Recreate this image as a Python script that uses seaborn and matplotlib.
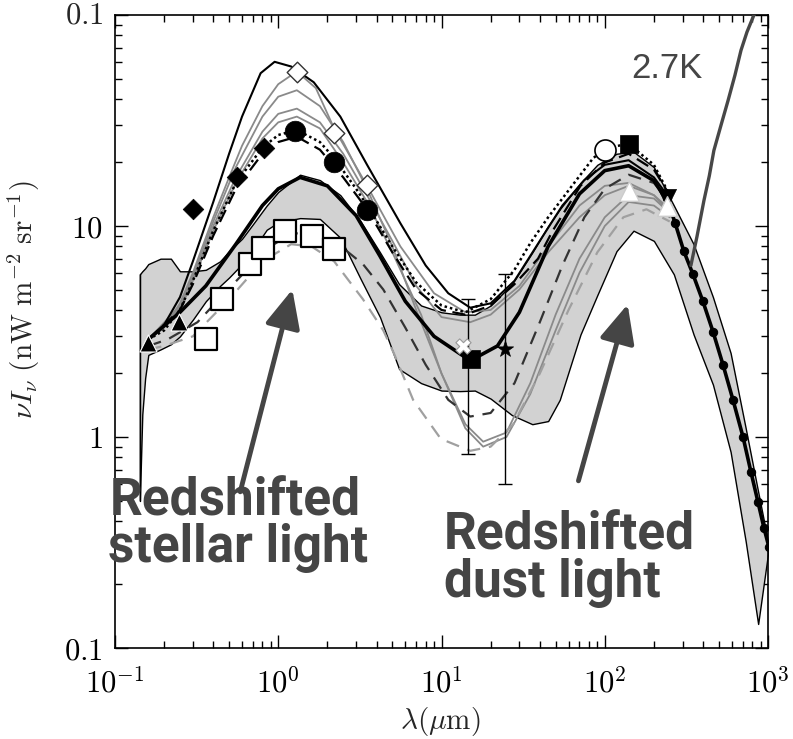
import numpy as np
import pandas as pd
import matplotlib
matplotlib.use("Agg")
import matplotlib.pyplot as plt
import seaborn as sns
from matplotlib.ticker import FixedLocator, FixedFormatter, LogLocator, NullFormatter

# ---------------- data ----------------
band_lam = [0.142, 0.147, 0.153, 0.16, 0.19, 0.22, 0.25, 0.30, 0.36, 0.44, 0.50, 0.60,
            0.70, 0.85, 1.0, 1.36, 1.8, 2.4, 3.2, 4.2, 5.5, 7.5, 10, 13, 16, 20, 27, 36,
            45, 53, 62, 71, 90, 118, 150, 200, 265, 350, 460, 590, 730, 870, 1000]
band_lo = [0.5, 1.28, 1.9, 2.45, 2.6, 2.75, 3.0, 3.6, 4.4, 5.2, 5.7, 6.6,
           7.7, 9.6, 10.4, 10.9, 10.8, 8.8, 5.6, 3.7, 2.1, 1.8, 1.66, 1.65, 1.66, 1.52, 1.27, 1.15,
           1.19, 1.5, 2.2, 3.06, 4.7, 7.6, 9.5, 8.5, 5.9, 3.06, 1.77, 0.85, 0.32, 0.13, 0.28]
band_hi = [5.9, 6.1, 6.3, 6.6, 7.0, 7.0, 6.1, 6.1, 6.2, 6.8, 7.6, 8.7,
           10.2, 12.5, 14.5, 17.5, 16.5, 14, 10.5, 7.5, 5.3, 4.2, 3.9, 3.8, 3.8, 4.2, 5.3, 7.5,
           10, 12, 14, 16, 19.5, 22, 22.5, 19, 12.5, 8.2, 4.6, 2.5, 1.1, 0.55, 0.32]

# thick black model
A_lam = [0.16, 0.25, 0.36, 0.55, 0.8, 1.0, 1.36, 2.0, 3.0, 4.2, 6, 9, 15, 22, 30, 45, 70, 100, 140, 200, 240]
A_I = [2.9, 3.9, 5.2, 8.2, 12.5, 15, 17, 15.5, 11.2, 7.2, 4.4, 3.0, 2.3, 2.7, 3.9, 8.0, 14.2, 18.3, 19.3, 16.4, 13.2]
# highest thin black model
B_lam = [0.16, 0.2, 0.25, 0.3, 0.4, 0.5, 0.6, 0.78, 0.95, 1.2, 1.65, 2.4, 3.5, 5.6, 8, 11, 15, 20, 28, 40, 55, 75, 100, 140, 200, 250]
B_I = [2.9, 3.4, 4.6, 6.8, 13, 22, 33, 53, 60, 57, 48, 33, 19.5, 10.3, 6.5, 4.8, 4.1, 4.3, 5.5, 8.5, 12.5, 16.5, 19.5, 20.5, 17, 13.5]
# grey thin model through open diamonds
C_lam = [0.16, 0.2, 0.25, 0.3, 0.4, 0.5, 0.6, 0.8, 1.0, 1.3, 1.7, 2.2, 3.5, 5.6, 9, 14, 20, 30, 45, 70, 100, 140, 200, 250]
C_I = [2.9, 3.3, 4.3, 6, 11, 17, 24, 37, 47, 54, 45, 29, 15.5, 8, 4.8, 3.9, 4.0, 5.2, 8, 12.5, 15.5, 16, 14, 11.5]
# dotted black model through filled circles
D_lam = [0.16, 0.2, 0.25, 0.3, 0.4, 0.55, 0.8, 1.0, 1.3, 1.8, 2.2, 3.0, 3.5, 5, 7, 10, 14, 20, 28, 35, 45, 59, 85, 104, 140, 200, 250]
D_I = [2.9, 3.2, 4.0, 5.5, 9.5, 16, 23.5, 27, 28.5, 25, 21, 15, 12.5, 8, 5.4, 4.2, 3.9, 4.5, 6.2, 8.3, 11, 14.5, 21, 23.5, 24.5, 19.5, 14]
# black dashed model
E_lam = [0.16, 0.25, 0.3, 0.4, 0.55, 0.8, 1.0, 1.3, 1.8, 2.5, 3.5, 5, 7, 10, 14, 20, 28, 39, 48, 71, 100, 140, 200, 250]
E_I = [2.9, 4.0, 5.3, 9, 15, 22, 25, 26.5, 23, 17, 12, 7.5, 5.0, 4.0, 3.8, 4.2, 5.3, 7.0, 9.5, 15.5, 20, 22, 18.5, 14]
# lower black dashed model (along open squares)
F_lam = [0.16, 0.21, 0.32, 0.53, 0.85, 1.2, 1.6, 2.2, 3.3, 4.4, 6, 8, 11, 15, 20, 28, 40, 55, 75, 100, 140, 200, 250]
F_I = [2.7, 2.9, 3.5, 5.3, 7.8, 9.2, 9.3, 8.5, 6.6, 5.0, 3.3, 2.2, 1.5, 1.25, 1.3, 1.8, 3.5, 6.5, 11, 15, 17.5, 16, 13]
# lowest grey dashed model
G_lam = [0.16, 0.2, 0.3, 0.5, 0.8, 1.2, 1.6, 2.2, 3.3, 4.4, 5.1, 6.7, 9.9, 15, 20, 27.5, 40, 60, 90, 130, 180, 250]
G_I = [2.6, 2.7, 3.0, 4.5, 6.8, 8.2, 8.0, 6.8, 4.5, 3.2, 2.5, 1.5, 0.98, 0.86, 0.9, 1.15, 2.0, 4.0, 7.5, 11, 12, 10.5]
# grey thin models dipping low in the mid-IR
H_lam = [0.16, 0.25, 0.3, 0.4, 0.55, 0.8, 1.0, 1.3, 1.8, 2.5, 3.5, 5, 7, 10, 14, 18, 25, 35, 50, 70, 100, 140, 200, 250]
H_I = [2.9, 4.2, 5.8, 10.5, 19, 33, 41, 44, 37, 25, 15, 8, 4, 2.0, 1.15, 0.95, 1.05, 1.8, 3.8, 7, 11, 14, 13.5, 11.5]
K_lam = [0.16, 0.25, 0.3, 0.4, 0.55, 0.8, 1.0, 1.3, 1.8, 2.5, 3.5, 5, 7.5, 10, 14, 18, 25, 35, 50, 70, 100, 140, 200, 250]
K_I = [2.9, 4.0, 5.5, 9.5, 16, 26, 31, 33, 29, 20, 13, 7.5, 3.8, 2.0, 1.1, 0.9, 1.0, 1.6, 3.2, 6, 10, 13, 12.5, 11]
# grey thin model with FIR peak at the white triangles
L_lam = [0.16, 0.25, 0.3, 0.4, 0.55, 0.8, 1.0, 1.3, 1.8, 2.5, 3.5, 5, 7, 10, 15, 20, 30, 45, 70, 100, 140, 200, 250]
L_I = [2.9, 4.1, 5.6, 10, 17, 28, 34, 36, 31, 22, 14, 8.5, 5.2, 3.7, 3.5, 3.8, 5.0, 7.5, 11, 14, 15.5, 14, 12]

# FIRAS fit (black line with dots)
firas_lam = [240, 270, 305, 347, 399, 460, 530, 610, 703, 787, 869, 945, 1014]
firas_I = [13.6, 10.3, 7.6, 5.9, 4.4, 3.16, 2.2, 1.5, 1.0, 0.68, 0.49, 0.37, 0.30]
# 2.7 K CMB curve
cmb_lam = [337, 367, 405, 437, 466, 515, 569, 627, 683, 743, 820]
cmb_I = [6.5, 8.9, 13.2, 17.3, 22.8, 30, 39.3, 51.8, 68, 83, 100]

# observations
tri_lam, tri_I = [0.16, 0.245], [2.8, 3.5]
dia_lam, dia_I = [0.30, 0.56, 0.82], [12.0, 17.0, 23.4]
circ_lam, circ_I = [1.27, 2.2, 3.5], [28.3, 20.0, 11.9]
odia_lam, odia_I = [1.3, 2.2, 3.5], [53.5, 27.5, 15.6]
osq_lam = [0.36, 0.45, 0.67, 0.81, 1.1, 1.6, 2.2]
osq_I = [2.9, 4.5, 6.6, 7.9, 9.5, 9.0, 7.8]
sq_lam, sq_I = [15.1, 140], [2.33, 24.5]
ocirc_lam, ocirc_I = [100], [22.8]
otri_lam, otri_I = [140, 240], [14.7, 12.5]
itri_lam, itri_I = [240], [13.6]
star_lam, star_I = [24.4], [2.6]
cross_lam, cross_I = [13.5], [2.7]
err_lam = [14.5, 24.4]
err_mid = [2.33, 2.6]
err_lo = [0.83, 0.6]
err_hi = [4.5, 5.9]

xtick_vals = [0.1, 1, 10, 100, 1000]
xtick_labels = [r"$10^{-1}$", r"$10^{0}$", r"$10^{1}$", r"$10^{2}$", r"$10^{3}$"]
ytick_vals = [0.1, 1, 10]
ytick_labels = [r"$0.1$", r"$1$", r"$10$"]

# ---------------- figure ----------------
sns.set_style("ticks")
plt.rcParams["mathtext.fontset"] = "cm"
plt.rcParams["font.family"] = ["DejaVu Sans"]

fig = plt.figure(figsize=(7.93, 7.39), dpi=100)
ax = fig.add_axes([0.145, 1 - 648 / 739, 0.8235, 633 / 739])
ax.set_xscale("log")
ax.set_yscale("log")

# shaded model envelope
ax.fill_between(band_lam, band_lo, band_hi, facecolor="#d2d2d2", edgecolor="black",
                linewidth=1.0, zorder=1)
ax.plot([band_lam[0], band_lam[0]], [band_lo[0], band_hi[0]], color="black", lw=1.0, zorder=1)

grey = "#8a8a8a"
lgrey = "#a0a0a0"
# grey models
for lam, val in [(C_lam, C_I), (H_lam, H_I), (K_lam, K_I), (L_lam, L_I)]:
    sns.lineplot(x=lam, y=val, ax=ax, color=grey, linewidth=1.3, zorder=2)
sns.lineplot(x=G_lam, y=G_I, ax=ax, color=lgrey, linewidth=1.6, linestyle=(0, (6, 4)), zorder=2)
sns.lineplot(x=F_lam, y=F_I, ax=ax, color="#333333", linewidth=1.6, linestyle=(0, (6, 4)), zorder=3)
# black models
sns.lineplot(x=B_lam, y=B_I, ax=ax, color="black", linewidth=1.5, zorder=3)
sns.lineplot(x=E_lam, y=E_I, ax=ax, color="black", linewidth=1.6, linestyle=(0, (6, 3)), zorder=3)
sns.lineplot(x=D_lam, y=D_I, ax=ax, color="black", linewidth=1.8, linestyle=(0, (1, 1.2)), zorder=3)
sns.lineplot(x=A_lam, y=A_I, ax=ax, color="black", linewidth=2.6, zorder=4)

# FIRAS fit
sns.lineplot(x=firas_lam, y=firas_I, ax=ax, color="black", linewidth=2.6, marker="o",
             markersize=6, markeredgecolor="black", zorder=5)
# 2.7 K
sns.lineplot(x=cmb_lam, y=cmb_I, ax=ax, color="#474747", linewidth=2.4, zorder=5)

# error bars
yerr = np.array([np.array(err_mid) - np.array(err_lo), np.array(err_hi) - np.array(err_mid)])
ax.errorbar(err_lam, err_mid, yerr=yerr, fmt="none", ecolor="black", elinewidth=1.0,
            capsize=5, capthick=1.0, zorder=5)

# observation markers
mk = dict(ax=ax, zorder=6, legend=False)
sns.scatterplot(x=tri_lam, y=tri_I, marker="^", s=150, color="black", edgecolor="white", linewidth=0.8, **mk)
sns.scatterplot(x=dia_lam, y=dia_I, marker="D", s=110, color="black", edgecolor="black", linewidth=0.5, **mk)
sns.scatterplot(x=circ_lam, y=circ_I, marker="o", s=220, color="black", edgecolor="black", linewidth=0.5, **mk)
sns.scatterplot(x=odia_lam, y=odia_I, marker="D", s=110, color="white", edgecolor="#333333", linewidth=1.0, **mk)
sns.scatterplot(x=osq_lam, y=osq_I, marker="s", s=250, color="white", edgecolor="black", linewidth=1.6, **mk)
sns.scatterplot(x=sq_lam, y=sq_I, marker="s", s=170, color="black", edgecolor="black", linewidth=0.5, **mk)
sns.scatterplot(x=ocirc_lam, y=ocirc_I, marker="o", s=230, color="white", edgecolor="black", linewidth=1.2, **mk)
sns.scatterplot(x=itri_lam, y=itri_I, marker="v", s=170, color="black", edgecolor="black", linewidth=0.5, **mk)
sns.scatterplot(x=otri_lam, y=otri_I, marker="^", s=200, color="white", edgecolor="#cccccc", linewidth=1.0, **mk)
sns.scatterplot(x=star_lam, y=star_I, marker="*", s=150, color="black", edgecolor="black", linewidth=0.5, **mk)
sns.scatterplot(x=cross_lam, y=cross_I, marker="X", s=120, color="white", edgecolor="#999999", linewidth=0.8, **mk)

# axes
ax.set_xlim(0.1, 1000)
ax.set_ylim(0.1, 100)
ax.xaxis.set_major_locator(FixedLocator(xtick_vals))
ax.xaxis.set_major_formatter(FixedFormatter(xtick_labels))
ax.yaxis.set_major_locator(FixedLocator(ytick_vals + [100]))
ax.yaxis.set_major_formatter(FixedFormatter(ytick_labels + [""]))
ax.xaxis.set_minor_locator(LogLocator(base=10, subs=np.arange(2, 10), numticks=20))
ax.yaxis.set_minor_locator(LogLocator(base=10, subs=np.arange(2, 10), numticks=20))
ax.xaxis.set_minor_formatter(NullFormatter())
ax.yaxis.set_minor_formatter(NullFormatter())
ax.tick_params(which="both", direction="in", top=True, right=True, width=1.0, colors="black")
ax.tick_params(which="major", length=9.5, labelsize=22)
ax.tick_params(which="minor", length=5)
ax.tick_params(axis="x", which="major", pad=14)
ax.tick_params(axis="y", which="major", pad=9)
for s in ax.spines.values():
    s.set_linewidth(1.2)
    s.set_color("black")

ax.text(-0.018, 1.0, r"$0.1$", transform=ax.transAxes, ha="right", va="center", fontsize=22)
ax.set_xlabel(r"$\lambda(\mu\mathrm{m})$", fontsize=21)
ax.xaxis.set_label_coords(0.498, -(705 - 648) / 633)
ax.set_ylabel(r"$\nu I_\nu\ (\mathrm{nW\ m^{-2}\ sr^{-1}})$", fontsize=21)
ax.yaxis.set_label_coords(-0.112, 0.55)

# annotations
tcol = "#454545"
tf = dict(fontfamily="Roboto", fontweight="bold", color=tcol, fontsize=37, zorder=10)
fig.text(110 / 793, 1 - 515 / 739, "Redshifted", ha="left", va="baseline", **tf)
fig.text(108 / 793, 1 - 562 / 739, "stellar light", ha="left", va="baseline", **tf)
fig.text(444 / 793, 1 - 550 / 739, "Redshifted", ha="left", va="baseline", **tf)
fig.text(444 / 793, 1 - 597 / 739, "dust light", ha="left", va="baseline", **tf)
fig.text(667 / 793, 1 - 68 / 739, "2.7K", ha="center", va="center", fontfamily="Liberation Sans",
         fontsize=25, color=tcol)

arrow = dict(arrowstyle="-|>,head_length=1.3,head_width=0.6", lw=3.5, color=tcol,
             shrinkA=0, shrinkB=0, mutation_scale=18)
ax.annotate("", xy=(1.22, 5.0), xytext=(0.585, 0.55), arrowprops=arrow, zorder=9)
ax.annotate("", xy=(138, 4.25), xytext=(69, 0.62), arrowprops=arrow, zorder=9)

fig.savefig("out.png", dpi=100)
